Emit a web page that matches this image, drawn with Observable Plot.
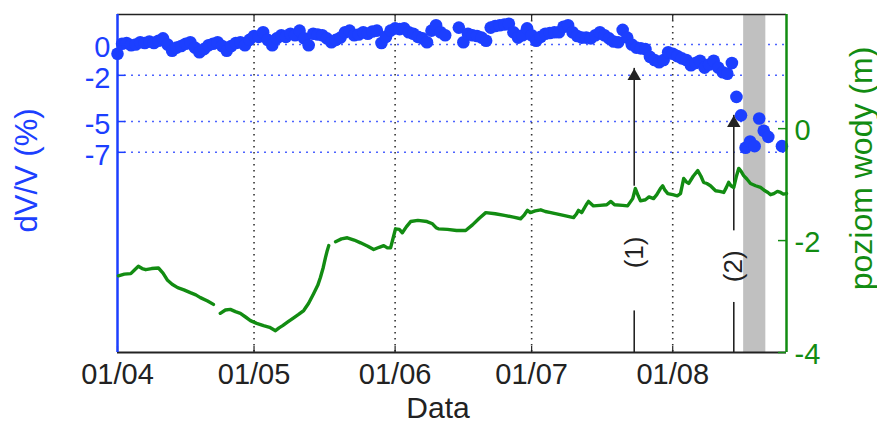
<!DOCTYPE html>
<html><head><meta charset="utf-8">
<script src="https://cdn.jsdelivr.net/npm/d3@7"></script>
<script src="https://cdn.jsdelivr.net/npm/@observablehq/plot@0.6"></script>
<style>
html,body{margin:0;padding:0;background:#fff;}
#chart{position:relative;width:877px;height:426px;background:#fff;}
#chart svg{position:absolute;left:0;top:0;}
</style></head><body><div id="chart"></div>
<script>
// ---- data ----
const dvvStart = "2013-04-01";
const dvvValues = [
 -0.6,0.05,0.1,-0.05,0.0,0.15,0.1,0.2,0.1,0.25,
 0.4,0.0,-0.4,-0.2,-0.1,0.05,0.15,-0.2,-0.5,-0.3,
 -0.05,0.05,0.15,-0.1,-0.4,-0.1,0.1,0.15,-0.05,0.3,
 0.55,0.5,0.8,0.3,-0.05,0.4,0.6,0.5,0.7,0.6,
 0.9,0.4,-0.05,0.7,0.65,0.6,0.4,0.15,0.3,0.45,
 0.8,0.9,0.6,0.65,0.8,0.7,0.85,0.9,0.1,0.5,
 0.9,1.05,1.0,1.05,0.8,0.7,0.5,0.4,0.15,0.9,
 1.25,0.8,0.6,null,null,1.1,0.15,0.7,0.6,0.55,
 0.45,0.25,1.1,1.2,1.25,1.3,1.35,0.8,0.45,0.6,
 1.05,0.6,0.25,0.5,0.7,0.75,0.8,0.8,1.15,1.25,
 0.8,0.55,0.45,0.45,0.4,0.6,0.8,0.6,0.4,0.2,
 0.15,0.95,0.45,0.0,-0.2,-0.25,-0.3,-0.8,-1.0,-1.15,
 -1.0,-0.5,-0.6,-0.75,-0.9,-1.0,-1.35,-1.2,-1.05,-1.5,
 -1.3,-1.05,-1.5,-1.8,-1.9,-1.2,-3.4,-4.6,-6.7,-6.3,
 -6.6,-4.8,-5.6,-6.0,null,null,-6.6
];
const wlDays = [0.2,1.5,2.9,3.8,4.6,5.4,6.2,7.5,9.0,10.0,11.0,12.0,13.2,14.6,16.0,17.2,18.2,19.8,21.1,21.8,
 22.6,23.7,24.8,25.9,27.0,28.2,29.2,30.6,32.1,33.4,34.7,35.5,36.3,37.5,38.7,39.8,40.9,42.0,43.1,44.0,44.6,45.2,45.7,46.1,46.4,47.1,
 47.9,49.2,50.5,52.0,53.4,55.0,56.3,57.5,58.5,59.3,60.0,60.6,61.1,61.9,62.6,63.5,64.4,66.0,68.0,69.2,70.0,70.5,72.5,74.5,76.5,78.0,79.5,80.9,
 83.0,85.0,87.0,88.6,89.3,90.1,90.7,91.8,93.0,94.0,95.2,97.5,100.2,100.8,101.3,102.0,103.0,103.5,104.6,106.0,107.5,108.4,109.2,111.0,112.1,
 113.2,113.8,114.4,114.9,116.0,116.8,117.8,118.5,119.3,119.8,120.3,120.9,122.0,123.0,123.7,124.4,125.0,125.5,126.5,127.5,128.2,128.8,129.5,
 130.3,131.4,132.3,133.2,133.8,134.3,134.8,135.4,136.0,136.5,137.0,137.6,138.3,139.1,140.2,141.3,142.1,142.9,143.5,144.2,145.0,145.7,146.3,147.0];
const wlLevels = [-2.63,-2.6,-2.59,-2.52,-2.46,-2.5,-2.52,-2.5,-2.49,-2.58,-2.71,-2.78,-2.84,-2.88,-2.93,-2.97,-3.02,-3.08,-3.14,null,
 -3.3,-3.24,-3.23,-3.27,-3.3,-3.37,-3.43,-3.48,-3.52,-3.55,-3.61,-3.56,-3.52,-3.45,-3.38,-3.32,-3.25,-3.12,-2.95,-2.8,-2.66,-2.48,-2.3,-2.18,-2.09,null,
 -2.02,-1.97,-1.95,-1.99,-2.04,-2.1,-2.16,-2.12,-2.09,-2.13,-2.13,-1.95,-1.79,-1.8,-1.86,-1.75,-1.66,-1.64,-1.66,-1.7,-1.77,-1.79,-1.8,-1.82,-1.82,-1.72,-1.6,-1.5,
 -1.52,-1.55,-1.58,-1.61,-1.55,-1.46,-1.5,-1.47,-1.45,-1.48,-1.5,-1.54,-1.59,-1.53,-1.46,-1.5,-1.36,-1.3,-1.38,-1.37,-1.36,-1.3,-1.36,-1.37,-1.38,
 -1.25,-1.07,-1.2,-1.29,-1.27,-1.22,-1.25,-1.18,-1.07,-1.02,-1.1,-1.16,-1.18,-1.2,-1.16,-0.89,-0.95,-0.98,-0.85,-0.75,-0.85,-0.96,-0.98,
 -1.02,-1.11,-1.12,-1.14,-1.05,-0.96,-1.02,-1.05,-0.85,-0.71,-0.76,-0.84,-0.9,-0.98,-1.02,-1.05,-1.1,-1.14,-1.18,-1.16,-1.12,-1.14,-1.17,-1.16];
const monthTicks = ["2013-04-01","2013-05-01","2013-06-01","2013-07-01","2013-08-01"];
const monthLabels = ["01/04","01/05","01/06","01/07","01/08"];
const dvvTicks = [0,-2,-5,-7];
const wlTicks = [0,-2,-4];
const band = [{start:"2013-08-16T14:00Z", end:"2013-08-21T11:00Z"}];
const eventLabels = ["(1)","(2)"];
const eventDates = ["2013-07-23T13:00Z","2013-08-14T10:00Z"];
const eventTail = [-9.2,-12.1];
const eventTip = [-1.55,-4.6];
const eventTextPos = [-13.5,-14.4];
const eventCutTop = [-17.3,-16.75];

// ---- setup ----
const W = 877, H = 426, mL = 117, mR = 91, mT = 14, mB = 74;
const innerW = W - mL - mR, innerH = H - mT - mB;
const blue = "#1c3fff", green = "#128c12", dark = "#222";
const font = "'Liberation Sans', Arial, sans-serif";
const xDomain = [new Date("2013-04-01"), new Date("2013-08-26")];
const yDvv = [-20, 1.95];
const yWl = [-4, 2.04];
const months = monthTicks.map(d => new Date(d));
const fmtKey = d3.utcFormat("%Y-%m-%d");

const dvv = dvvValues.map((v, i) => ({date: d3.utcDay.offset(new Date(dvvStart), i), v}));
const wl = wlDays.map((d, i) => ({date: d3.utcHour.offset(new Date(dvvStart), Math.round(d * 24)), w: wlLevels[i]}));
const events = eventLabels.map((l, i) => ({label: l, date: new Date(eventDates[i]), tail: eventTail[i], tip: eventTip[i], text: eventTextPos[i], cut: eventCutTop[i]}));
const bandData = band.map(b => ({start: new Date(b.start), end: new Date(b.end)}));

const common = {
  width: W, height: H, marginLeft: mL, marginRight: mR, marginTop: mT, marginBottom: mB,
  style: {fontFamily: font, fontSize: "29px", background: "transparent", overflow: "visible"}
};

const p1 = Plot.plot({
  ...common,
  x: {type: "utc", domain: xDomain, axis: null},
  y: {domain: yDvv, axis: null},
  marks: [
    Plot.ruleX(months.slice(1), {stroke: "#333", strokeWidth: 1.6, strokeDasharray: "1.6,4.4"}),
    Plot.ruleY(dvvTicks, {stroke: "#4d63ff", strokeWidth: 1.4, strokeDasharray: "2,5"}),
    Plot.rect(bandData, {x1: "start", x2: "end", fill: "#c0c0c0"}),
    Plot.dot(dvv.filter(d => d.v != null), {x: "date", y: "v", r: 6.3, fill: blue, stroke: null}),
    Plot.ruleX(events, {x: "date", y1: "tail", y2: "tip", stroke: dark, strokeWidth: 1.6}),
    Plot.dot(events, {x: "date", y: "tip", symbol: "triangle", r: 5, fill: dark, dy: 7.8}),
    Plot.ruleX(events, {x: "date", y1: () => yDvv[0], y2: "cut", stroke: dark, strokeWidth: 1.6}),
    Plot.text(events, {x: "date", y: "text", text: "label", rotate: -90, fontSize: 26, fill: dark}),
    Plot.ruleY([yDvv[1]], {stroke: dark, strokeWidth: 1.5}),
    Plot.ruleY([yDvv[0]], {stroke: dark, strokeWidth: 2}),
    Plot.tickX(months, {x: d => d, stroke: dark, strokeWidth: 1.2, insetTop: innerH - 6}),
    Plot.tickX(months, {x: d => d, stroke: dark, strokeWidth: 1.2, insetBottom: innerH - 6}),
    Plot.ruleX([xDomain[0]], {stroke: blue, strokeWidth: 2.5}),
    Plot.tickY(dvvTicks, {y: d => d, stroke: blue, strokeWidth: 1.5, insetRight: innerW - 8}),
    Plot.axisY({ticks: dvvTicks, tickSize: 0, tickPadding: 7, fontSize: 29, fill: blue, dy: 3, label: null, tickFormat: d => String(d)}),
    Plot.axisX({ticks: months, tickSize: 0, tickPadding: 11, fontSize: 29, fill: dark, label: null,
      tickFormat: d => monthLabels[monthTicks.indexOf(fmtKey(d))]}),
    Plot.text(["dV/V (%)"], {frameAnchor: "left", textAnchor: "middle", lineAnchor: "middle", dx: -90, dy: -13, rotate: -90, fontSize: 31, fill: blue}),
    Plot.text(["Data"], {frameAnchor: "bottom", textAnchor: "middle", lineAnchor: "middle", dx: -14, dy: 56, fontSize: 30, fill: dark})
  ]
});

const p2 = Plot.plot({
  ...common,
  x: {type: "utc", domain: xDomain, axis: null},
  y: {domain: yWl, axis: null},
  marks: [
    Plot.line(wl, {x: "date", y: "w", stroke: green, strokeWidth: 3.4, curve: "linear"}),
    Plot.ruleX([xDomain[1]], {stroke: green, strokeWidth: 2.5}),
    Plot.tickY(wlTicks, {y: d => d, stroke: green, strokeWidth: 1.5, insetLeft: innerW - 8}),
    Plot.axisY({anchor: "right", ticks: wlTicks, tickSize: 0, tickPadding: 8, fontSize: 29, fill: green, dy: 2, label: null, tickFormat: d => String(d)}),
    Plot.text(["poziom wody (m)"], {frameAnchor: "right", textAnchor: "middle", lineAnchor: "middle", dx: 75, dy: -15, rotate: -90, fontSize: 32, fill: green})
  ]
});

const c = document.getElementById("chart");
c.appendChild(p1);
c.appendChild(p2);
</script></body></html>
